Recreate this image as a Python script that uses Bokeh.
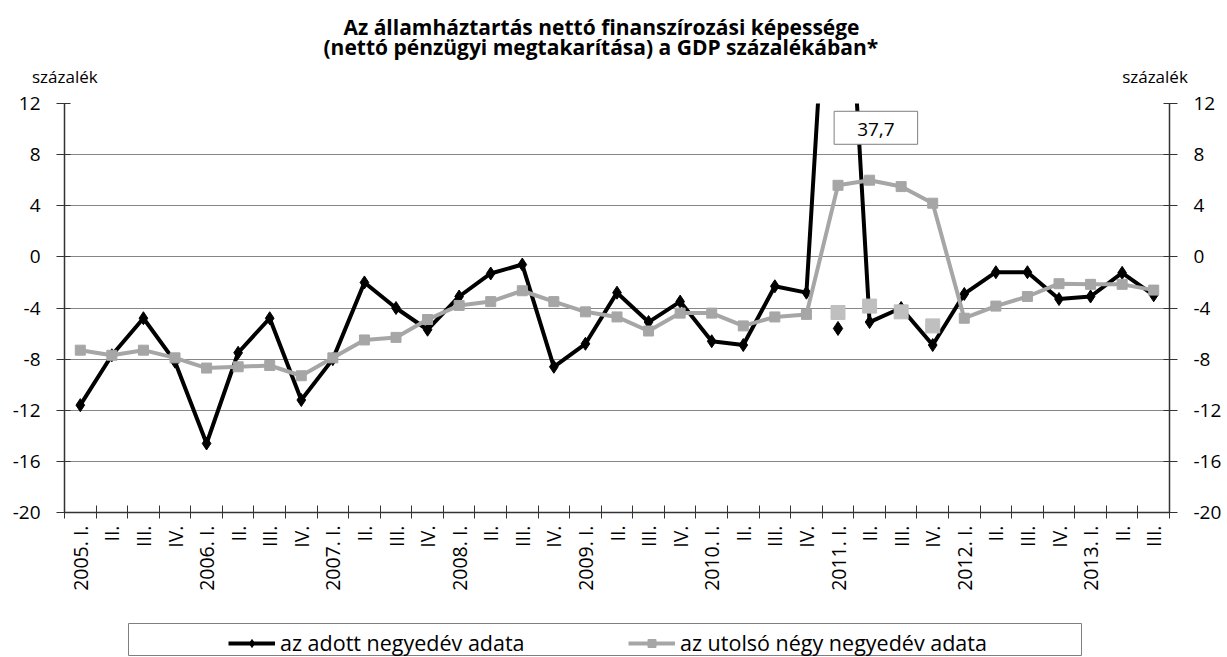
import math
from bokeh.plotting import figure
from bokeh.models import (Range1d, LinearAxis, FixedTicker, Label, Legend,
                          LegendItem, Spacer, ColumnDataSource, Title)
from bokeh.layouts import column, row
from bokeh.embed import file_html
from bokeh.resources import INLINE

# ---------------- data ----------------
tick_labels = ["2005. I.", "II.", "III.", "IV.",
               "2006. I.", "II.", "III.", "IV.",
               "2007. I.", "II.", "III.", "IV.",
               "2008. I.", "II.", "III.", "IV.",
               "2009. I.", "II.", "III.", "IV.",
               "2010. I.", "II.", "III.", "IV.",
               "2011. I.", "II.", "III.", "IV.",
               "2012. I.", "II.", "III.", "IV.",
               "2013. I.", "II.", "III."]

quarterly = [-11.6, -7.7, -4.8, -8.2,
             -14.6, -7.5, -4.8, -11.2,
             -8.0, -2.0, -4.0, -5.7,
             -3.1, -1.3, -0.6, -8.6,
             -6.8, -2.8, -5.1, -3.5,
             -6.6, -6.9, -2.3, -2.8,
             37.7, -5.1, -4.0, -6.9,
             -2.9, -1.2, -1.2, -3.3,
             -3.1, -1.25, -3.0]

four_quarter = [-7.3, -7.7, -7.3, -7.9,
                -8.7, -8.6, -8.5, -9.3,
                -7.9, -6.5, -6.3, -4.9,
                -3.8, -3.5, -2.65, -3.5,
                -4.3, -4.7, -5.8, -4.4,
                -4.4, -5.4, -4.7, -4.5,
                5.6, 6.0, 5.5, 4.2,
                -4.8, -3.85, -3.1, -2.1,
                -2.15, -2.15, -2.6]

nan = float("nan")
# alternative (one-off adjusted) values, 2011 only
quarterly_alt = [nan] * 24 + [-5.6] + [nan] * 10
four_quarter_alt = [nan] * 24 + [-4.35, -3.85, -4.3, -5.4] + [nan] * 7

peak_label = "37,7"
y_ticks = [-20, -16, -12, -8, -4, 0, 4, 8, 12]

title_lines = ["Az államháztartás nettó finanszírozási képessége",
               "(nettó pénzügyi megtakarítása) a GDP százalékában*"]
unit_label = "százalék"
unit_positions = [-0.49, 34.04]   # above the left and the right axis
legend_labels = ["az adott negyedév adata", "az utolsó négy negyedév adata"]

# ---------------- styling ----------------
FONT = "Open Sans"
BLACK = "#000000"
GRAY = "#a6a6a6"
LIGHT_GRAY = "#bfbfbf"
GRID = "#868686"
AXIS = "#333333"

n = len(tick_labels)
xs = list(range(n))
src = ColumnDataSource(dict(x=xs, q=quarterly, f=four_quarter,
                            qa=quarterly_alt, fa=four_quarter_alt))

p = figure(width=1224, height=618, output_backend="svg", toolbar_location=None,
           x_range=Range1d(-0.5, n - 0.5), y_range=Range1d(y_ticks[0], y_ticks[-1]),
           min_border_left=64, min_border_right=54, min_border_top=103,
           min_border_bottom=106, title=None)
p.outline_line_color = None
p.background_fill_color = "white"
p.border_fill_color = "white"

yt = FixedTicker(ticks=y_ticks)
xt = FixedTicker(ticks=xs, minor_ticks=[i - 0.5 for i in range(n + 1)])

p.xgrid.visible = False
p.ygrid.ticker = yt
p.ygrid.grid_line_color = GRID
p.ygrid.grid_line_width = 1

# x axis
xa = p.xaxis[0]
xa.ticker = xt
xa.major_label_overrides = {i: lab for i, lab in enumerate(tick_labels)}
xa.major_label_orientation = math.pi / 2
xa.major_tick_line_color = None
xa.major_tick_out = 6
xa.major_tick_in = 0
xa.minor_tick_line_color = AXIS
xa.minor_tick_line_width = 1
xa.minor_tick_in = 7
xa.minor_tick_out = 6
xa.major_label_standoff = 7
xa.axis_line_color = AXIS
xa.axis_line_width = 1.5
xa.major_label_text_font = FONT
xa.major_label_text_font_size = "19.5px"
xa.major_label_text_color = "black"

# left / right y axes
ya = p.yaxis[0]
yr = LinearAxis()
p.add_layout(yr, "right")
for ax in (ya, yr):
    ax.ticker = yt
    ax.major_label_overrides = {t: str(t) for t in y_ticks}
    ax.minor_tick_line_color = None
    ax.major_tick_in = 6
    ax.major_tick_out = 8
    ax.major_tick_line_color = AXIS
    ax.axis_line_color = AXIS
    ax.axis_line_width = 1.5
    ax.major_label_standoff = 16
    ax.major_label_text_font = FONT
    ax.major_label_text_font_size = "19px"
    ax.major_label_text_color = "black"

# series
r_ql = p.line("x", "q", source=src, line_color=BLACK, line_width=4, line_join="round")
r_qm = p.scatter("x", "q", source=src, marker="diamond", size=13,
                 fill_color=BLACK, line_color=BLACK)
r_fl = p.line("x", "f", source=src, line_color=GRAY, line_width=4, line_join="round")
r_fm = p.scatter("x", "f", source=src, marker="square", size=10,
                 fill_color=GRAY, line_color=GRAY)
p.scatter("x", "qa", source=src, marker="diamond", size=14,
          fill_color=BLACK, line_color=BLACK)
p.scatter("x", "fa", source=src, marker="square", size=14,
          fill_color=LIGHT_GRAY, line_color=LIGHT_GRAY)

# value box for the off-scale peak
p.add_layout(Label(x=25.2, y=10.1, text=peak_label, text_align="center",
                   text_baseline="middle", text_font=FONT, text_font_size="19px",
                   text_color="black", background_fill_color="white",
                   border_line_color="#7f7f7f", border_line_width=1,
                   padding=dict(left=23, right=23, top=12, bottom=8)))

# "százalék" above both value axes: an unlined axis on top carrying two labels
ua = LinearAxis(ticker=FixedTicker(ticks=unit_positions),
                major_label_overrides={v: unit_label for v in unit_positions})
ua.axis_line_color = None
ua.major_tick_line_color = None
ua.minor_tick_line_color = None
ua.major_tick_in = 0
ua.major_tick_out = 0
ua.major_label_standoff = 16
ua.major_label_text_font = FONT
ua.major_label_text_font_size = "17px"
ua.major_label_text_color = "black"
p.add_layout(ua, "above")

# two-line title
p.add_layout(Title(text=title_lines[1], align="left", offset=259, standoff=2,
                   text_font=FONT, text_font_size="21px", text_font_style="bold",
                   text_color="black"), "above")
p.add_layout(Title(text=title_lines[0], align="left", offset=279, standoff=-22,
                   text_font=FONT, text_font_size="21px", text_font_style="bold",
                   text_color="black"), "above")

# ---------------- legend box ----------------
lf = figure(width=954, height=33, output_backend="svg", toolbar_location=None,
            min_border=0, title=None, x_range=Range1d(0, 1), y_range=Range1d(0, 1))
lf.axis.visible = False
lf.grid.visible = False
lf.outline_line_color = "#7f7f7f"
lf.outline_line_width = 1
off = ColumnDataSource(dict(x=[-5], y=[-5]))
l1 = lf.line("x", "y", source=off, line_color=BLACK, line_width=4)
m1 = lf.scatter("x", "y", source=off, marker="diamond", size=13,
                fill_color=BLACK, line_color=BLACK)
l2 = lf.line("x", "y", source=off, line_color=GRAY, line_width=4)
m2 = lf.scatter("x", "y", source=off, marker="square", size=10,
                fill_color=GRAY, line_color=GRAY)

for xpos, lab, rends in ((100, legend_labels[0], [l1, m1]),
                         (500, legend_labels[1], [l2, m2])):
    lg = Legend(items=[LegendItem(label=lab, renderers=rends)],
                location=(xpos, -1), padding=0, margin=0, spacing=0,
                border_line_color=None, background_fill_alpha=0,
                glyph_width=47, glyph_height=20, label_standoff=5,
                label_text_font=FONT, label_text_font_size="21.5px",
                label_text_color="black")
    lf.add_layout(lg)

layout = column(p, Spacer(height=5), row(Spacer(width=128), lf))

open("out.html", "w").write(file_html(layout, INLINE))
